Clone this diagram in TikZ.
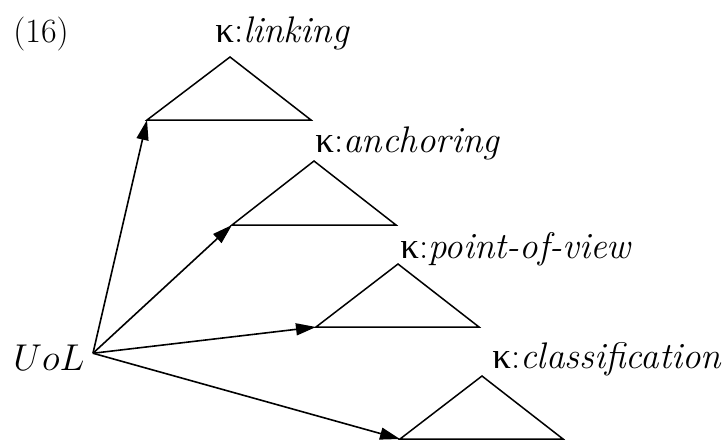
\documentclass[tikz,border=0pt]{standalone}
\usepackage{fontspec}
\usepackage{graphicx}
\newfontfamily\kappafont{Liberation Serif}
\usepackage{tikz}
\usetikzlibrary{arrows.meta}
\newcommand{\kp}{{\kappafont κ}:}

\begin{document}
\begin{tikzpicture}[x=0.5pt, y=-0.5pt, every node/.style={inner sep=0pt, font=\fontsize{18.5}{22}\selectfont}, >={Triangle[length=10pt,width=6pt]}]
\useasboundingbox (0,0) rectangle (722,440);
\node[anchor=base west,font=\fontsize{17}{20}\selectfont] (ex) at (13,42) {(16)};
\node[anchor=base west,inner xsep=4pt,font=\fontsize{17.28}{22}\selectfont] (uol) at (5,370) {\scalebox{1.08}{$UoL$}};
% triangles: apex, left and right corner
\coordinate (lnk) at (230,57);   \coordinate (lnk-l) at (147,120); \coordinate (lnk-r) at (311,120);
\coordinate (anc) at (314,161);  \coordinate (anc-l) at (232,225); \coordinate (anc-r) at (396,225);
\coordinate (pov) at (398,264);  \coordinate (pov-l) at (316,327); \coordinate (pov-r) at (479,327);
\coordinate (cls) at (482,376);  \coordinate (cls-l) at (400,439); \coordinate (cls-r) at (563,439);
\draw[line width=0.75pt] (lnk) -- (lnk-l) -- (lnk-r) -- cycle;
\draw[line width=0.75pt] (anc) -- (anc-l) -- (anc-r) -- cycle;
\draw[line width=0.75pt] (pov) -- (pov-l) -- (pov-r) -- cycle;
\draw[line width=0.75pt] (cls) -- (cls-l) -- (cls-r) -- cycle;
\node[anchor=base west] (lnk-lab) at (215,42) {\kp\textit{linking}};
\node[anchor=base west] (anc-lab) at (315,152) {\kp\textit{anchoring}};
\node[anchor=base west] (pov-lab) at (400,258) {\kp\textit{point-of-view}};
\node[anchor=base west] (cls-lab) at (492,368) {\kp\textit{classification}};
\draw[->,line width=0.8pt] ([yshift=2pt]uol.east) -- (lnk-l);
\draw[->,line width=0.8pt] ([yshift=2pt]uol.east) -- (anc-l);
\draw[->,line width=0.8pt] ([yshift=2pt]uol.east) -- (pov-l);
\draw[->,line width=0.8pt] ([yshift=2pt]uol.east) -- (cls-l);
\end{tikzpicture}
\end{document}
